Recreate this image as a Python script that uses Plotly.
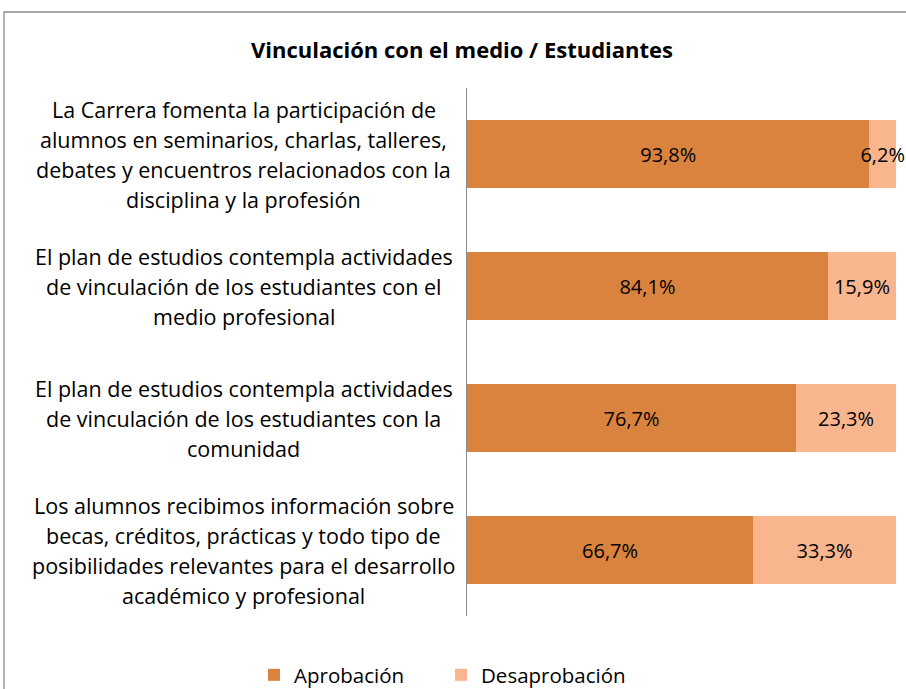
import plotly.graph_objects as go

title = "Vinculación con el medio / Estudiantes"
category_lines = [
    ["La Carrera fomenta la participación de", "alumnos en seminarios, charlas, talleres,",
     "debates y encuentros relacionados con la", "disciplina y la profesión"],
    ["El plan de estudios contempla actividades", "de vinculación de los estudiantes con el",
     "medio profesional"],
    ["El plan de estudios contempla actividades", "de vinculación de los estudiantes con la",
     "comunidad"],
    ["Los alumnos recibimos información sobre", "becas, créditos, prácticas y todo tipo de",
     "posibilidades relevantes para el desarrollo", "académico y profesional"],
]
categories = [" ".join(l) for l in category_lines]
aprobacion = [93.8, 84.1, 76.7, 66.7]
desaprobacion = [6.2, 15.9, 23.3, 33.3]
series_names = ["Aprobación", "Desaprobación"]

FONT = "Open Sans"
C1 = "#DA833F"
C2 = "#F9B58E"

def fmt(v):
    return f"{v:.1f}".replace(".", ",") + "%"

fig = go.Figure()
for name, vals, col in [(series_names[0], aprobacion, C1), (series_names[1], desaprobacion, C2)]:
    fig.add_trace(go.Bar(
        y=categories, x=vals, orientation="h", name=name,
        marker=dict(color=col, line=dict(width=0)),
        text=[fmt(v) for v in vals], textposition="inside", insidetextanchor="middle",
        textangle=0, constraintext="none", cliponaxis=False,
        textfont=dict(family=FONT, size=20, color="#000000"),
    ))

# category labels: centered multi-line text, one annotation per line
LINE_H = 30
for cat, lines in zip(categories, category_lines):
    n = len(lines)
    for i, line in enumerate(lines):
        off = ((n - 1) / 2 - i) * LINE_H
        fig.add_annotation(
            xref="paper", yref="y", x=(244 - 467) / 429, y=cat, text=line, showarrow=False,
            xanchor="center", yanchor="middle", yshift=off,
            font=dict(family=FONT, size=21.5, color="#000000"),
        )

# outer chart border (cropped chart frame)
fig.add_shape(type="rect", xref="paper", yref="paper",
              x0=(4 - 467) / 429, x1=1.3,
              y0=-0.4, y1=(616 - 12) / 528,
              line=dict(color="#8c8c8c", width=1.3), fillcolor="rgba(0,0,0,0)", layer="below")

fig.update_layout(
    width=906, height=689,
    margin=dict(l=467, r=10, t=88, b=73),
    paper_bgcolor="white", plot_bgcolor="white",
    barmode="stack", bargap=0.49,
    title=dict(text="<b>" + title + "</b>", x=462 / 906, xanchor="center",
               y=1 - 50 / 689, yanchor="middle",
               font=dict(family=FONT, size=22, color="#000000")),
    xaxis=dict(range=[0, 100], visible=False, fixedrange=True),
    yaxis=dict(categoryorder="array", categoryarray=categories, autorange="reversed",
               showticklabels=False, showline=True, linecolor="#8c8c8c", linewidth=1.3,
               showgrid=False, zeroline=False, ticks="", fixedrange=True),
    showlegend=True,
    legend=dict(orientation="h", xref="container", yref="container",
                x=441 / 906, xanchor="center",
                y=(689 - 675) / 689, yanchor="middle", traceorder="normal",
                entrywidth=142,
                font=dict(family=FONT, size=20.5, color="#000000"),
                bgcolor="rgba(0,0,0,0)"),
    uniformtext=dict(minsize=20, mode="show"),
    font=dict(family=FONT),
)

fig.write_html("out.html", config={"displayModeBar": False},
               post_script="document.body.style.margin='0';document.body.style.overflow='hidden';")
